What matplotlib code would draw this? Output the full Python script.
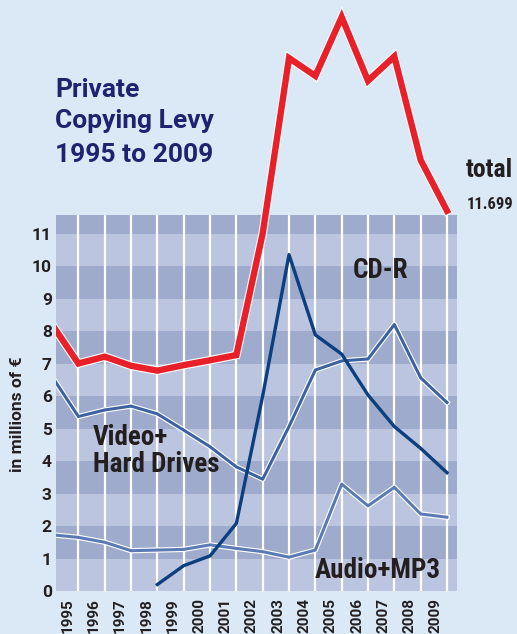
import numpy as np
import matplotlib
matplotlib.use("Agg")
import matplotlib.pyplot as plt
import matplotlib.patheffects as pe
from matplotlib.transforms import ScaledTranslation

# data (millions of EUR); 1994 only to run the lines into the left edge
years = [1994, 1995, 1996, 1997, 1998, 1999, 2000, 2001, 2002,
         2003, 2004, 2005, 2006, 2007, 2008, 2009]
total = [8.2, 7.0, 7.21, 6.93, 6.78, 6.95, 7.1, 7.26, 11.0,
         16.4, 15.85, 17.66, 15.7, 16.45, 13.26, 11.699]
video_hd = [6.6, 5.37, 5.57, 5.69, 5.45, 4.95, 4.44, 3.82, 3.44,
            5.06, 6.8, 7.08, 7.14, 8.2, 6.56, 5.8]
audio_mp3 = [1.73, 1.65, 1.5, 1.24, 1.26, 1.28, 1.42, 1.31, 1.21,
             1.04, 1.26, 3.29, 2.62, 3.19, 2.37, 2.27]
cdr_years = [1998, 1999, 2000, 2001, 2002, 2003, 2004, 2005, 2006, 2007, 2008, 2009]
cdr = [0.2, 0.78, 1.08, 2.08, 6.0, 10.35, 7.88, 7.29, 6.03, 5.06, 4.39, 3.64]
label_years = list(range(1995, 2010))
yticks = list(range(0, 12))

BG = "#dbe9f6"
DARK = "#9eabcc"
LIGHT = "#bcc5df"
NAVY = "#1e2370"
INK = "#231f20"
COND = ["Roboto Condensed", "Roboto", "DejaVu Sans"]
WIDE = ["Roboto", "DejaVu Sans"]

W, H = 517, 634
fig = plt.figure(figsize=(W / 100, H / 100), dpi=100, facecolor=BG)
ax = fig.add_axes([56 / W, (H - 591) / H, 401 / W, 376 / H])
ax.set_facecolor(BG)
ax.set_xlim(1994.15, 2009.38)
ax.set_ylim(0, 11.57)

# horizontal bands
for k in range(12):
    ax.axhspan(k, k + 1, color=LIGHT if k % 2 == 0 else DARK, lw=0, zorder=0)
for yr in label_years:
    ax.axvline(yr, color="white", lw=1.6, zorder=1)

def outline(w):
    return [pe.Stroke(linewidth=w + 1.6, foreground="white"), pe.Normal()]

ax.plot(years, audio_mp3, color="#5b7ab4", lw=2.2, zorder=3, path_effects=outline(2.2))
ax.plot(years, video_hd, color="#3d62a0", lw=2.2, zorder=3, path_effects=outline(2.2))
ax.plot(cdr_years, cdr, color="#0b3f80", lw=2.4, zorder=4)
red, = ax.plot(years, total, color="#e8202a", lw=4.6, zorder=5,
               solid_joinstyle="miter", path_effects=outline(4.6))
# total runs above the plot box, only clip at the left edge
clip = matplotlib.patches.Rectangle((1994.15, -1), 20, 40, transform=ax.transData)
red.set_clip_path(clip)

for s in ax.spines.values():
    s.set_visible(False)
ax.tick_params(length=0)
ax.set_yticks(yticks)
ax.set_yticklabels([str(v) for v in yticks], family=WIDE, weight="bold",
                   fontsize=12.5, color=INK)
ax.tick_params(axis="y", pad=3)
ax.set_xticks(label_years)
ax.set_xticklabels([str(v) for v in label_years], rotation=90, family=WIDE,
                   weight="bold", fontsize=11, color=INK, va="top")
ax.tick_params(axis="x", pad=5)
off = ScaledTranslation(-11 / 100, 0, fig.dpi_scale_trans)
for t in ax.get_xticklabels():
    t.set_transform(t.get_transform() + off)

def ftext(x, y, s, family=COND, **kw):
    fig.text(x / W, 1 - y / H, s, family=family, weight="bold", va="baseline", **kw)

ftext(55, 97, "Private", family=WIDE, fontsize=19, color=NAVY)
ftext(55, 128, "Copying Levy", family=WIDE, fontsize=19, color=NAVY)
ftext(55, 162, "1995 to 2009", family=WIDE, fontsize=19, color=NAVY)
ftext(466, 177, "total", fontsize=18.5, color=INK)
ftext(467, 209, "11.699", fontsize=12, color=INK)
ftext(353, 278, "CD-R", fontsize=19.5, color=INK)
ftext(93, 445, "Video+", fontsize=19.5, color=INK)
ftext(93, 472, "Hard Drives", fontsize=19.5, color=INK)
ftext(315, 578, "Audio+MP3", fontsize=19.5, color=INK)
fig.text(18 / W, 1 - 414 / H, "in millions of \u20ac", rotation=90, family=WIDE,
         weight="bold", fontsize=12.5, color=INK, ha="center", va="center")

fig.savefig("out.png", dpi=100, facecolor=BG)
